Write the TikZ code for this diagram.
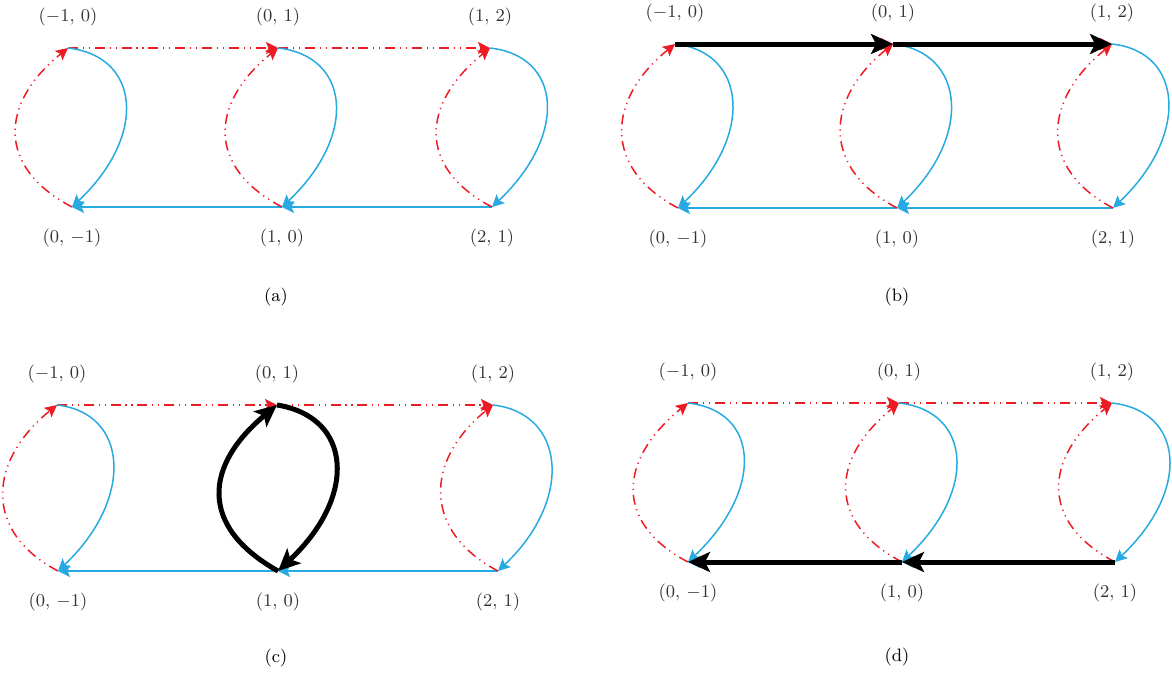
\documentclass[tikz,border=0pt]{standalone}
\usepackage{amsmath}
\usepackage{xcolor}
\usepackage{tikz}
\usetikzlibrary{positioning,arrows.meta}

\definecolor{pathred}{RGB}{237,28,36}
\definecolor{pathblue}{RGB}{39,170,225}

% one panel: straight edges, loops of the listed columns, point labels
\newcommand{\basepanel}[2]{%
  \draw[redarr] (#1-t1)--(#1-t2); \draw[redarr] (#1-t2)--(#1-t3);
  \draw[bluearr] (#1-b3)--(#1-b2); \draw[bluearr] (#1-b2)--(#1-b1);
  \foreach \i in {#2} {
    \draw[redarr] (#1-b\i) .. controls +(-76,-40) and +(-68,55) .. (#1-t\i);
    \draw[bluearr] (#1-t\i) .. controls +(72,8) and +(76,-72) .. (#1-b\i);
  }
  \node[lbl,above=11pt of #1-t1] (#1-lt1) {$(-1,\,0)$};
  \node[lbl,above=11pt of #1-t2] (#1-lt2) {$(0,\,1)$};
  \node[lbl,above=11pt of #1-t3] (#1-lt3) {$(1,\,2)$};
  \node[lbl,below=11pt of #1-b1] (#1-lb1) {$(0,\,-1)$};
  \node[lbl,below=11pt of #1-b2] (#1-lb2) {$(1,\,0)$};
  \node[lbl,below=11pt of #1-b3] (#1-lb3) {$(2,\,1)$};
}

\begin{document}
\begin{tikzpicture}[
  x=0.5pt,y=-0.5pt,
  font=\small,
  lbl/.style={inner sep=0pt,text=black!80},
  redarr/.style={draw=pathred,line width=0.75pt,
    dash pattern=on 5pt off 2.4pt on 0.6pt off 2.4pt on 0.6pt off 2.4pt,
    -{Stealth[length=6pt,width=6pt,inset=1.2pt]}},
  bluearr/.style={draw=pathblue,line width=0.75pt,
    -{Stealth[length=6pt,width=6pt,inset=1.2pt]}},
  boldarr/.style={draw=black,line width=2.5pt,
    -{Stealth[length=11pt,width=10pt,inset=2.5pt]}}]
  \useasboundingbox (0,0) rectangle (1172,675);

  % (a)
  \coordinate (a-t1) at (68,48);  \coordinate (a-t2) at (278,48);  \coordinate (a-t3) at (490,48);
  \coordinate (a-b1) at (72,207); \coordinate (a-b2) at (282,207); \coordinate (a-b3) at (492,207);
  \basepanel{a}{1,2,3}
  \node (cap-a) at (276,297) {(a)};

  % (b)
  \coordinate (b-t1) at (675,44);  \coordinate (b-t2) at (893,44);  \coordinate (b-t3) at (1112,44);
  \coordinate (b-b1) at (678,208); \coordinate (b-b2) at (897,208); \coordinate (b-b3) at (1113,208);
  \basepanel{b}{1,2,3}
  \draw[boldarr] (b-t1)--(b-t2); \draw[boldarr] (b-t2)--(b-t3);
  \node (cap-b) at (897,297) {(b)};

  % (c)
  \coordinate (c-t1) at (57,405);  \coordinate (c-t2) at (277,405);  \coordinate (c-t3) at (493,405);
  \coordinate (c-b1) at (58,571);  \coordinate (c-b2) at (278,571);  \coordinate (c-b3) at (498,571);
  \basepanel{c}{1,3}
  \draw[boldarr] (c-b2) .. controls +(-80,-45) and +(-72,60) .. (c-t2);
  \draw[boldarr] (c-t2) .. controls +(75,12) and +(80,-75) .. (c-b2);
  \node (cap-c) at (276,658) {(c)};

  % (d)
  \coordinate (d-t1) at (688,403); \coordinate (d-t2) at (899,403); \coordinate (d-t3) at (1112,403);
  \coordinate (d-b1) at (688,562); \coordinate (d-b2) at (902,562); \coordinate (d-b3) at (1115,562);
  \basepanel{d}{1,2,3}
  \draw[boldarr] (d-b3)--(d-b2); \draw[boldarr] (d-b2)--(d-b1);
  \node (cap-d) at (897,657) {(d)};
\end{tikzpicture}
\end{document}
